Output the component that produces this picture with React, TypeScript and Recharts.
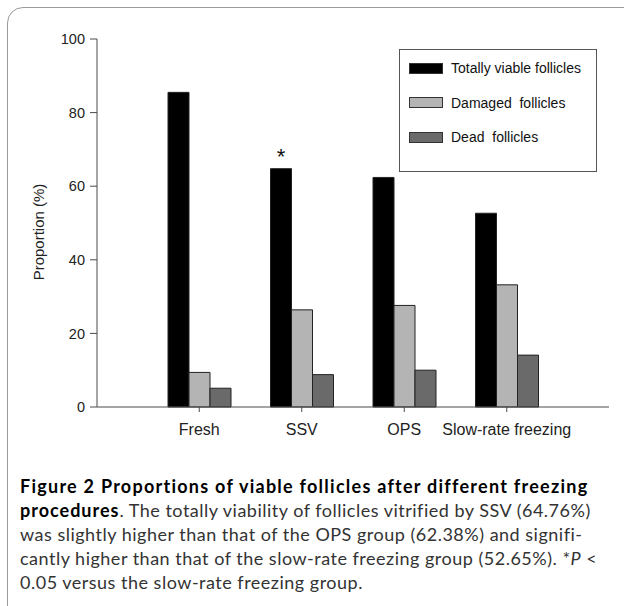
import { BarChart, Bar, XAxis, YAxis, Legend, LabelList } from 'recharts';

const groups = ['Fresh', 'SSV', 'OPS', 'Slow-rate freezing'];
const viable = [85.5, 64.76, 62.38, 52.65];
const damaged = [9.4, 26.4, 27.6, 33.2];
const dead = [5.1, 8.8, 10.0, 14.1];
const marks = ['', '*', '', ''];
const yTicks = [0, 20, 40, 60, 80, 100];

const SERIES = [
  { key: 'viable', name: 'Totally viable follicles', color: '#000000' },
  { key: 'damaged', name: 'Damaged  follicles', color: '#b4b4b4' },
  { key: 'dead', name: 'Dead  follicles', color: '#6a6a6a' },
];

const data = groups.map((g, i) => ({
  group: g,
  viable: viable[i],
  damaged: damaged[i],
  dead: dead[i],
  mark: marks[i],
}));

const AXIS = '#4a4a4a';
const FONT = 'Arial, "Liberation Sans", sans-serif';

function LegendBox() {
  return (
    <div style={{ position: 'relative', border: '1px solid #555', width: 196, height: 121, boxSizing: 'content-box', background: '#fff', fontFamily: FONT, fontSize: 14, color: '#111' }}>
      {SERIES.map((s, i) => (
        <div key={s.key} style={{ position: 'absolute', left: 9, top: 10 + i * 34.5, display: 'flex', alignItems: 'center', whiteSpace: 'pre', lineHeight: '16px' }}>
          <div style={{ width: 32, height: 9, background: s.color, border: '1px solid #333', marginRight: 8 }} />
          {s.name}
        </div>
      ))}
    </div>
  );
}

function YLabel() {
  return (
    <text x={38} y={232} transform="rotate(-90 38 232)" textAnchor="middle" dominantBaseline="central" fontSize={15} fontFamily={FONT} fill="#222">
      Proportion (%)
    </text>
  );
}

export default function App() {
  return (
    <div style={{ position: 'absolute', left: 0, top: 0, width: 624, height: 606, background: '#fff', overflow: 'hidden' }}>
      <div style={{ position: 'absolute', left: 7, top: 7, width: 700, height: 700, border: '1.5px solid #9a9a9a', borderTopLeftRadius: 16 }} />
      <div style={{ position: 'absolute', left: 0, top: 0 }}>
        <BarChart width={624} height={460} data={data} margin={{ top: 39, right: 15, left: 0, bottom: 23 }} barCategoryGap={20} barGap={0}>
          <XAxis dataKey="group" padding={{ left: 51, right: 51 }} height={30} stroke={AXIS} tickSize={5} tickMargin={12}
            tick={{ fontSize: 16, fontFamily: FONT, fill: '#222' }} interval={0} />
          <XAxis xAxisId="top" dataKey="group" orientation="top" height={0} tick={false} tickLine={false} stroke={AXIS} />
          <YAxis domain={[0, 100]} ticks={yTicks} width={97} stroke={AXIS} tickSize={7} tickMargin={5}
            tick={{ fontSize: 14.5, fontFamily: FONT, fill: '#222' }} label={<YLabel />} />
          <YAxis yAxisId="right" orientation="right" width={0} domain={[0, 100]} tick={false} tickLine={false} stroke={AXIS} />
          <Legend layout="vertical" align="center" verticalAlign="middle" content={<LegendBox />}
            wrapperStyle={{ position: 'absolute', left: 399, top: 49, width: 198, height: 123 }} />
          {SERIES.map(s => (
            <Bar key={s.key} dataKey={s.key} name={s.name} fill={s.color} stroke="#222" strokeWidth={1} isAnimationActive={false}>
              {s.key === 'viable' && (
                <LabelList dataKey="mark" position="top" offset={5} style={{ fontSize: 22, fontFamily: FONT, fill: '#111' }} />
              )}
            </Bar>
          ))}
        </BarChart>
      </div>
      <div style={{ position: 'absolute', left: 20, top: 474, width: 610, fontFamily: 'Lato, "Open Sans", sans-serif', fontSize: 18, lineHeight: '24px', letterSpacing: 0.5, color: '#333', whiteSpace: 'nowrap' }}>
        <div style={{ fontWeight: 700, color: '#000', letterSpacing: 1.25 }}>Figure 2 Proportions of viable follicles after different freezing</div>
        <div><span style={{ fontWeight: 700, color: '#000', letterSpacing: 1.0 }}>procedures</span>. The totally viability of follicles vitrified by SSV (64.76%)</div>
        <div>was slightly higher than that of the OPS group (62.38%) and signifi-</div>
        <div>cantly higher than that of the slow-rate freezing group (52.65%). *<i>P</i> &lt;</div>
        <div>0.05 versus the slow-rate freezing group.</div>
      </div>
    </div>
  );
}
